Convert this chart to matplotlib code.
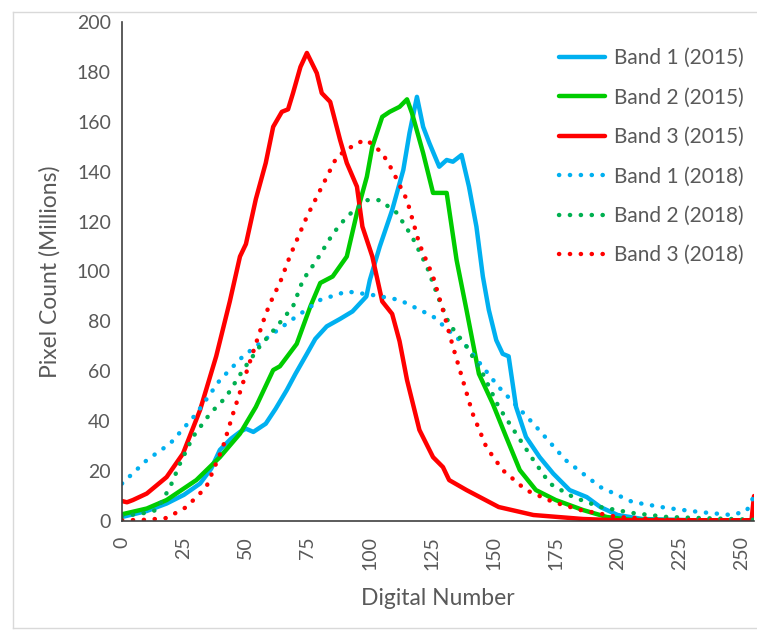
import matplotlib.pyplot as plt
from matplotlib.lines import Line2D

# Band 1 (2015)
b1_2015_dn = [0, 10, 18, 25, 31.5, 36, 39.5, 44, 47.6, 50, 53, 58, 62, 66.5, 70, 74.6, 78, 82.6,
              88, 93, 98.6, 100, 104, 109, 113.5, 116, 119, 121.5, 124, 128, 131, 133.5, 137,
              140, 143, 145.6, 148, 151, 153.6, 156, 159, 163, 168.5, 174, 180.6, 187.5, 193,
              200, 210, 230, 254, 255]
b1_2015_val = [1.6, 4, 7, 10.5, 15, 21, 28.5, 33, 35.7, 37, 35.7, 39, 45, 52.5, 59, 67, 73, 78,
               81, 84, 90, 96.6, 110, 124.6, 140.7, 155.5, 170, 158, 151.5, 142, 144.7, 144, 146.7,
               134, 118, 98, 84.6, 72.5, 67, 66, 45.7, 33.7, 25.6, 19, 12.4, 9.6, 5.6,
               2.4, 0.8, 0.3, 0.3, 0.8]

# Band 2 (2015)
b2_2015_dn = [0, 10, 18, 30, 39.5, 47.6, 54, 61, 63.7, 70.5, 76, 80, 85, 90.7, 94.8, 98.8, 101,
              105, 108, 112, 115, 117, 121.5, 125.5, 131, 135, 139, 144, 149.6, 155, 160.5, 167,
              175, 186, 195.6, 205, 230, 255]
b2_2015_val = [2.7, 5, 8.4, 16.4, 25.6, 35, 45.7, 60.5, 62, 71, 86, 95.4, 98, 106, 123.5, 138, 150,
               162, 164, 166, 169, 163.5, 147.5, 131.5, 131.5, 104.6, 84.6, 59, 47, 33.7, 20.4, 12.4,
               8.4, 4.4, 1.6, 0.5, 0.3, 0.3]

# Band 3 (2015)
b3_2015_dn = [0, 2, 4.4, 10, 18, 24.6, 31.5, 38, 43.5, 47.6, 50, 54, 58, 61, 64.5, 67, 69, 72,
              74.6, 78.6, 80.6, 84, 88, 90.7, 94.8, 97, 101, 105, 109, 112, 115, 120, 125.5,
              129.5, 132, 139, 152, 166, 186, 200, 254, 255]
b3_2015_val = [8, 7.5, 8.4, 11, 17.6, 27, 44.5, 66, 88, 106, 111, 129, 143.5, 158, 164, 165, 171.5,
               182, 187.6, 179.5, 171.5, 168, 152.7, 143.5, 134, 118, 106, 88, 83, 72, 56.5, 36.5,
               25.6, 21.6, 16.4, 12.4, 5.6, 2.4, 0.8, 0.3, 0.3, 10]

# Band 1 (2018)
b1_2018_dn = [0, 10, 19.4, 30, 39.5, 48.8, 58, 69, 80, 90.7, 101, 112, 125.5, 139, 152, 166, 179,
              193, 206, 220, 233, 246, 252, 255]
b1_2018_val = [15, 24.4, 31, 43, 56.5, 66, 73, 81, 88.6, 92, 90.6, 88.6, 82, 70, 53.7, 39, 24.4,
               13.6, 7.6, 5.2, 3.6, 2.4, 4, 10]

# Band 2 (2018)
b2_2018_dn = [0, 8, 14, 19.4, 23.4, 28.6, 35.5, 42, 48.8, 55.6, 62.5, 69, 73, 78.6, 85, 90.7, 98.8,
              104, 110.9, 117, 123, 128, 132, 139, 145.6, 152, 159, 166, 172.6, 182, 193, 206,
              220, 246, 255]
b2_2018_val = [2, 3, 4.4, 13.6, 23, 33.7, 43, 49.7, 60.5, 70, 78, 86, 96.6, 104.6, 115, 122, 128.6,
               128.6, 123.5, 114, 102, 88.6, 79, 70, 59, 45.7, 35, 24.4, 15, 9.6, 5.6, 3.2,
               1.6, 0.8, 0.5]

# Band 3 (2018)
b3_2018_dn = [0, 10, 18, 26, 34, 40.7, 44.8, 50, 54, 58, 61, 63.7, 67.7, 74.6, 80, 86.7, 94.8, 98.8,
              105, 109, 115, 120, 125.5, 129.5, 133.5, 137.5, 141.5, 147, 153.6, 163, 174, 185,
              200, 220, 255]
b3_2018_val = [0.3, 0.5, 1.2, 5.6, 13.6, 29.6, 43, 59, 71, 83, 90, 95.4, 106, 122, 132.7, 146, 151.5,
               152.7, 147.5, 140.7, 128.6, 111, 98, 84.5, 70, 56.5, 43, 29.6, 20.4, 12.4, 7.6, 4.4,
               1.6, 0.5, 0.3]

x_ticks = [0, 25, 50, 75, 100, 125, 150, 175, 200, 225, 250]
y_ticks = [0, 20, 40, 60, 80, 100, 120, 140, 160, 180, 200]

plt.rcParams['font.family'] = ['Lato', 'DejaVu Sans']
gray = '#595959'

fig = plt.figure(figsize=(7.57, 6.31), dpi=100)
ax = fig.add_axes([122 / 757, 1 - 521 / 631, 632 / 757, 499 / 631])

solid = dict(lw=3.2, solid_joinstyle='round', solid_capstyle='round')
dotted = dict(lw=3.2, linestyle=(0, (0.05, 2.4)), dash_capstyle='round')

ax.plot(b1_2015_dn, b1_2015_val, color='#00B0F0', label='Band 1 (2015)', **solid)
ax.plot(b2_2015_dn, b2_2015_val, color='#00CC00', label='Band 2 (2015)', **solid)
ax.plot(b3_2015_dn, b3_2015_val, color='#FF0000', label='Band 3 (2015)', **solid)
ax.plot(b1_2018_dn, b1_2018_val, color='#00B0F0', label='Band 1 (2018)', **dotted)
ax.plot(b2_2018_dn, b2_2018_val, color='#00B050', label='Band 2 (2018)', **dotted)
ax.plot(b3_2018_dn, b3_2018_val, color='#FF0000', label='Band 3 (2018)', **dotted)

ax.set_xlim(0, 255)
ax.set_ylim(0, 200)
ax.set_xticks(x_ticks)
ax.set_yticks(y_ticks)
ax.tick_params(axis='x', length=0, labelsize=14, labelcolor=gray, labelrotation=90, pad=11)
ax.tick_params(axis='y', length=0, labelsize=14, labelcolor=gray, pad=8)
for s in ['top', 'right']:
    ax.spines[s].set_visible(False)
for s in ['left', 'bottom']:
    ax.spines[s].set_color('#404040')
    ax.spines[s].set_linewidth(1.2)

ax.set_xlabel('Digital Number', fontsize=16.5, color=gray, labelpad=13)
ax.set_ylabel('Pixel Count (Millions)', fontsize=16.5, color=gray, labelpad=12)

leg = ax.legend(loc='upper right', bbox_to_anchor=(0.997, 0.964), frameon=False, fontsize=15,
                handlelength=2.2, handletextpad=0.45, labelspacing=0.93, borderaxespad=0.0)
for t in leg.get_texts():
    t.set_color(gray)

# faint border lines of the original figure
fig.add_artist(Line2D([13 / 757, 1], [1 - 12 / 631, 1 - 12 / 631], color='#d9d9d9', lw=1))
fig.add_artist(Line2D([13 / 757, 13 / 757], [1 - 628 / 631, 1 - 12 / 631], color='#d9d9d9', lw=1))
fig.add_artist(Line2D([13 / 757, 1], [1 - 628 / 631, 1 - 628 / 631], color='#d9d9d9', lw=1))

fig.savefig('out.png', dpi=100)
